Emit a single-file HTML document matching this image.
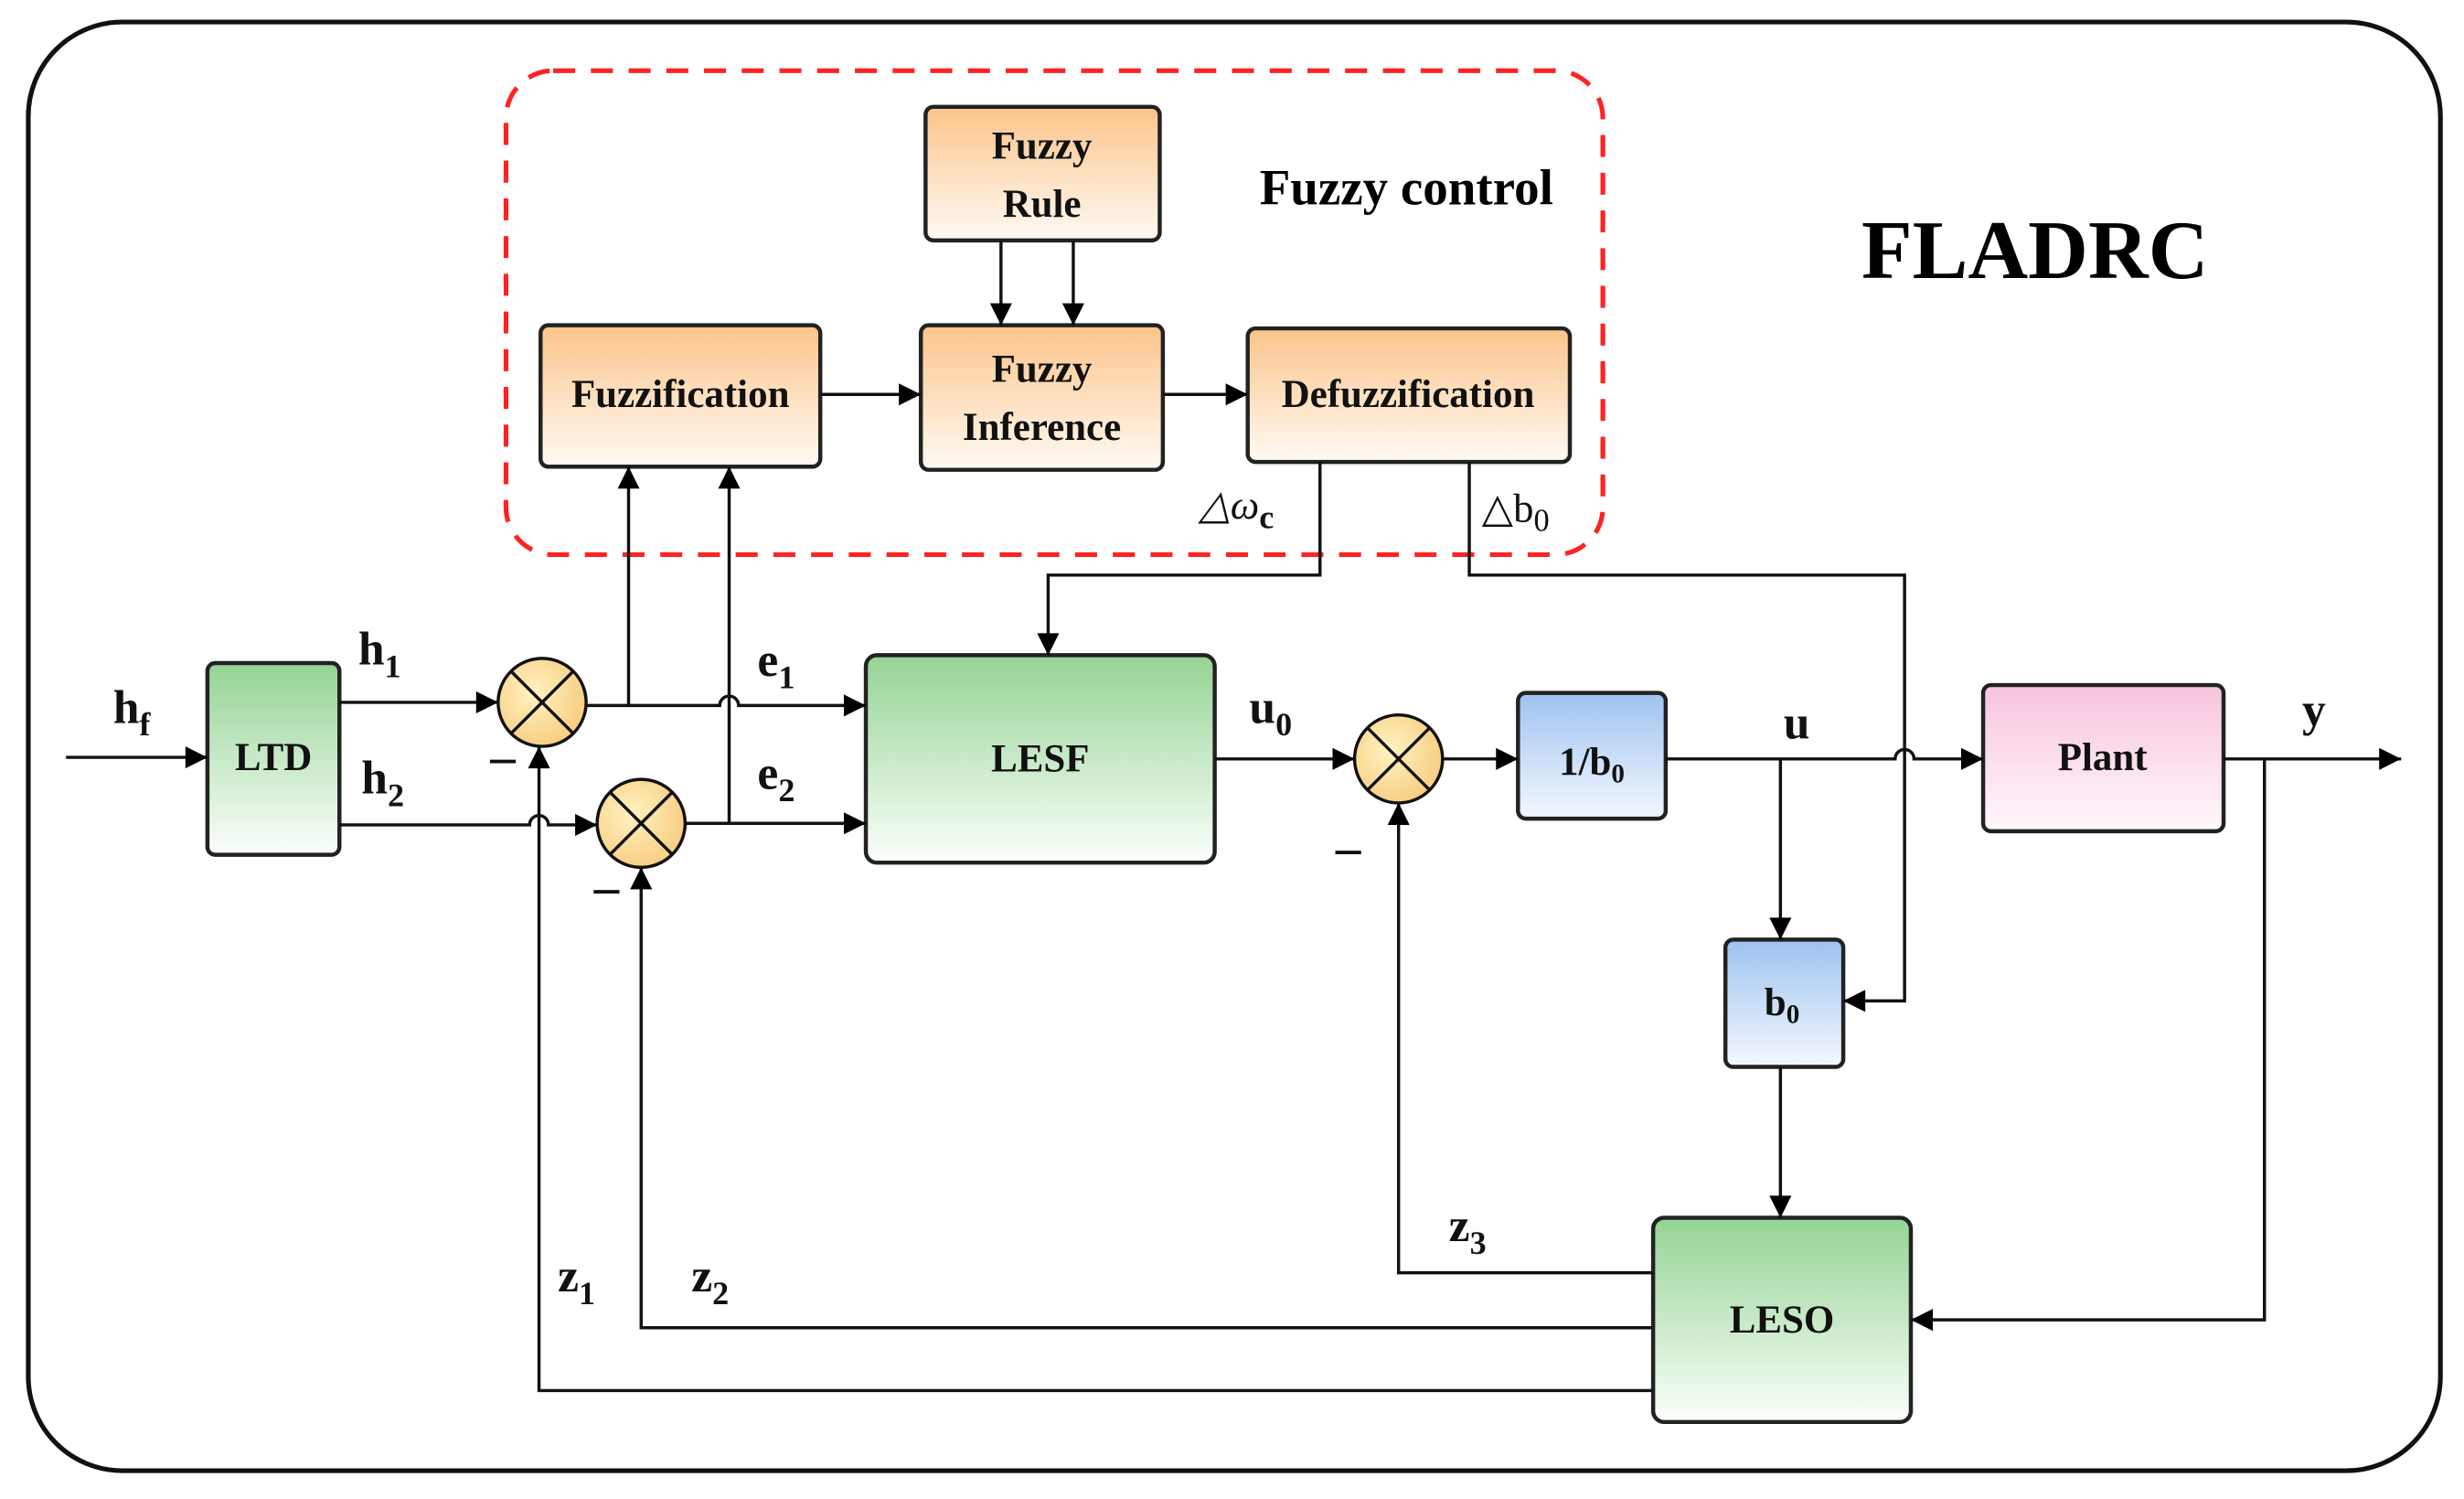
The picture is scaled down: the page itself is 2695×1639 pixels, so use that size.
<!DOCTYPE html>
<html><head><meta charset="utf-8"><style>html,body{margin:0;padding:0;background:#fff}svg{display:block}</style></head>
<body>
<svg width="2695" height="1639" viewBox="0 0 1568 954" preserveAspectRatio="none" xmlns="http://www.w3.org/2000/svg" font-family="'Liberation Serif', serif" font-weight="bold">
<defs>
<linearGradient id="or" x1="0" y1="0" x2="0" y2="1"><stop offset="0" stop-color="#fbc48a"/><stop offset="1" stop-color="#fffaf4"/></linearGradient>
<linearGradient id="gr" x1="0" y1="0" x2="0" y2="1"><stop offset="0" stop-color="#94d394"/><stop offset="1" stop-color="#fbfffb"/></linearGradient>
<linearGradient id="bl" x1="0" y1="0" x2="0" y2="1"><stop offset="0" stop-color="#9ec3ef"/><stop offset="1" stop-color="#f4f8ff"/></linearGradient>
<linearGradient id="pk" x1="0" y1="0" x2="0" y2="1"><stop offset="0" stop-color="#f7c3dd"/><stop offset="1" stop-color="#fff8fc"/></linearGradient>
<radialGradient id="sm" cx="0.4" cy="0.4" r="0.7"><stop offset="0" stop-color="#fff2c0"/><stop offset="1" stop-color="#f6c97a"/></radialGradient>
<marker id="A" viewBox="0 0 10 10" refX="10" refY="5" markerWidth="20" markerHeight="14" markerUnits="userSpaceOnUse" orient="auto"><path d="M0,0 L10,5 L0,10 z" fill="#000"/></marker>
</defs>
<rect x="18" y="14" width="1535" height="922" rx="60" fill="none" stroke="#111" stroke-width="3"/>
<rect x="322" y="45" width="698" height="308" rx="30" fill="none" stroke="#f22" stroke-width="3" stroke-dasharray="14 10"/>
<g stroke="#222" stroke-width="2.6">
<rect x="589" y="68" width="149" height="85" rx="5" fill="url(#or)"/>
<rect x="344" y="207" width="178" height="90" rx="5" fill="url(#or)"/>
<rect x="586" y="207" width="154" height="92" rx="5" fill="url(#or)"/>
<rect x="794" y="209" width="205" height="85" rx="5" fill="url(#or)"/>
<rect x="132" y="422" width="84" height="122" rx="5" fill="url(#gr)"/>
<rect x="551" y="417" width="222" height="132" rx="7" fill="url(#gr)"/>
<rect x="1052" y="775" width="164" height="130" rx="7" fill="url(#gr)"/>
<rect x="966" y="441" width="94" height="80" rx="5" fill="url(#bl)"/>
<rect x="1098" y="598" width="75" height="81" rx="5" fill="url(#bl)"/>
<rect x="1262" y="436" width="153" height="93" rx="5" fill="url(#pk)"/>
</g>
<g fill="none" stroke="#111" stroke-width="2">
<line x1="637" y1="153" x2="637" y2="207" marker-end="url(#A)"/>
<line x1="683" y1="153" x2="683" y2="207" marker-end="url(#A)"/>
<line x1="522" y1="251" x2="586" y2="251" marker-end="url(#A)"/>
<line x1="740" y1="251" x2="794" y2="251" marker-end="url(#A)"/>
<line x1="42" y1="482" x2="132" y2="482" marker-end="url(#A)"/>
<line x1="216" y1="447" x2="317" y2="447" marker-end="url(#A)"/>
<path d="M216,525 L337,525 A6,6 0 0 1 349,525 L380,525" marker-end="url(#A)"/>
<path d="M373,449 L458,449 A6,6 0 0 1 470,449 L551,449" marker-end="url(#A)"/>
<line x1="436" y1="524" x2="551" y2="524" marker-end="url(#A)"/>
<line x1="400" y1="449" x2="400" y2="297" marker-end="url(#A)"/>
<line x1="464" y1="524" x2="464" y2="297" marker-end="url(#A)"/>
<path d="M840,294 L840,366 L667,366 L667,417" marker-end="url(#A)"/>
<path d="M935,294 L935,366 L1212,366 L1212,637 L1173,637" marker-end="url(#A)"/>
<line x1="773" y1="483" x2="862" y2="483" marker-end="url(#A)"/>
<line x1="918" y1="483" x2="966" y2="483" marker-end="url(#A)"/>
<path d="M1060,483 L1206,483 A6,6 0 0 1 1218,483 L1262,483" marker-end="url(#A)"/>
<line x1="1133" y1="483" x2="1133" y2="598" marker-end="url(#A)"/>
<line x1="1133" y1="679" x2="1133" y2="775" marker-end="url(#A)"/>
<line x1="1415" y1="483" x2="1528" y2="483" marker-end="url(#A)"/>
<path d="M1441,483 L1441,840 L1216,840" marker-end="url(#A)"/>
<path d="M1052,810 L890,810 L890,511" marker-end="url(#A)"/>
<path d="M1052,845 L408,845 L408,552" marker-end="url(#A)"/>
<path d="M1052,885 L343,885 L343,475" marker-end="url(#A)"/>
</g>
<g stroke="#111" stroke-width="2">
<circle cx="345" cy="447" r="28" fill="url(#sm)"/>
<circle cx="408" cy="524" r="28" fill="url(#sm)"/>
<circle cx="890" cy="483" r="28" fill="url(#sm)"/>
<path d="M325,427 L365,467 M365,427 L325,467 M388,504 L428,544 M428,504 L388,544 M870,463 L910,503 M910,463 L870,503" fill="none"/>
</g>
<g font-size="25" text-anchor="middle" fill="#111">
<text x="663" y="101">Fuzzy</text><text x="663" y="138">Rule</text>
<text x="433" y="259">Fuzzification</text>
<text x="663" y="243">Fuzzy</text><text x="663" y="280">Inference</text>
<text x="896" y="259">Defuzzification</text>
<text x="174" y="490">LTD</text>
<text x="662" y="491">LESF</text>
<text x="1134" y="848">LESO</text>
<text x="1013" y="493">1/b<tspan font-size="17" dy="5">0</tspan></text>
<text x="1134" y="646">b<tspan font-size="17" dy="5">0</tspan></text>
<text x="1338" y="490">Plant</text>
</g>
<text x="895" y="130" font-size="32" text-anchor="middle">Fuzzy control</text>
<text x="1295" y="177" font-size="53" text-anchor="middle">FLADRC</text>
<g font-size="30" fill="#111">
<text x="72" y="460">h<tspan font-size="21" dy="8">f</tspan></text>
<text x="228" y="423">h<tspan font-size="21" dy="8">1</tspan></text>
<text x="230" y="505">h<tspan font-size="21" dy="8">2</tspan></text>
<text x="482" y="430">e<tspan font-size="21" dy="8">1</tspan></text>
<text x="482" y="502">e<tspan font-size="21" dy="8">2</tspan></text>
<text x="795" y="460">u<tspan font-size="21" dy="8">0</tspan></text>
<text x="1135" y="470">u</text>
<text x="1465" y="462">y</text>
<text x="922" y="790">z<tspan font-size="21" dy="8">3</tspan></text>
<text x="355" y="822">z<tspan font-size="21" dy="8">1</tspan></text>
<text x="440" y="822">z<tspan font-size="21" dy="8">2</tspan></text>
<text x="312" y="492" font-size="32">–</text>
<text x="378" y="575" font-size="32">–</text>
<text x="850" y="550" font-size="32">–</text>
<text x="763" y="330" font-size="26" font-weight="normal" font-style="italic">△ω<tspan font-size="21" dy="6" font-weight="bold" font-style="normal">c</tspan></text>
<text x="943" y="332" font-size="26" font-weight="normal">△b<tspan font-size="20" dy="6">0</tspan></text>
</g>
</svg>
</body></html>
